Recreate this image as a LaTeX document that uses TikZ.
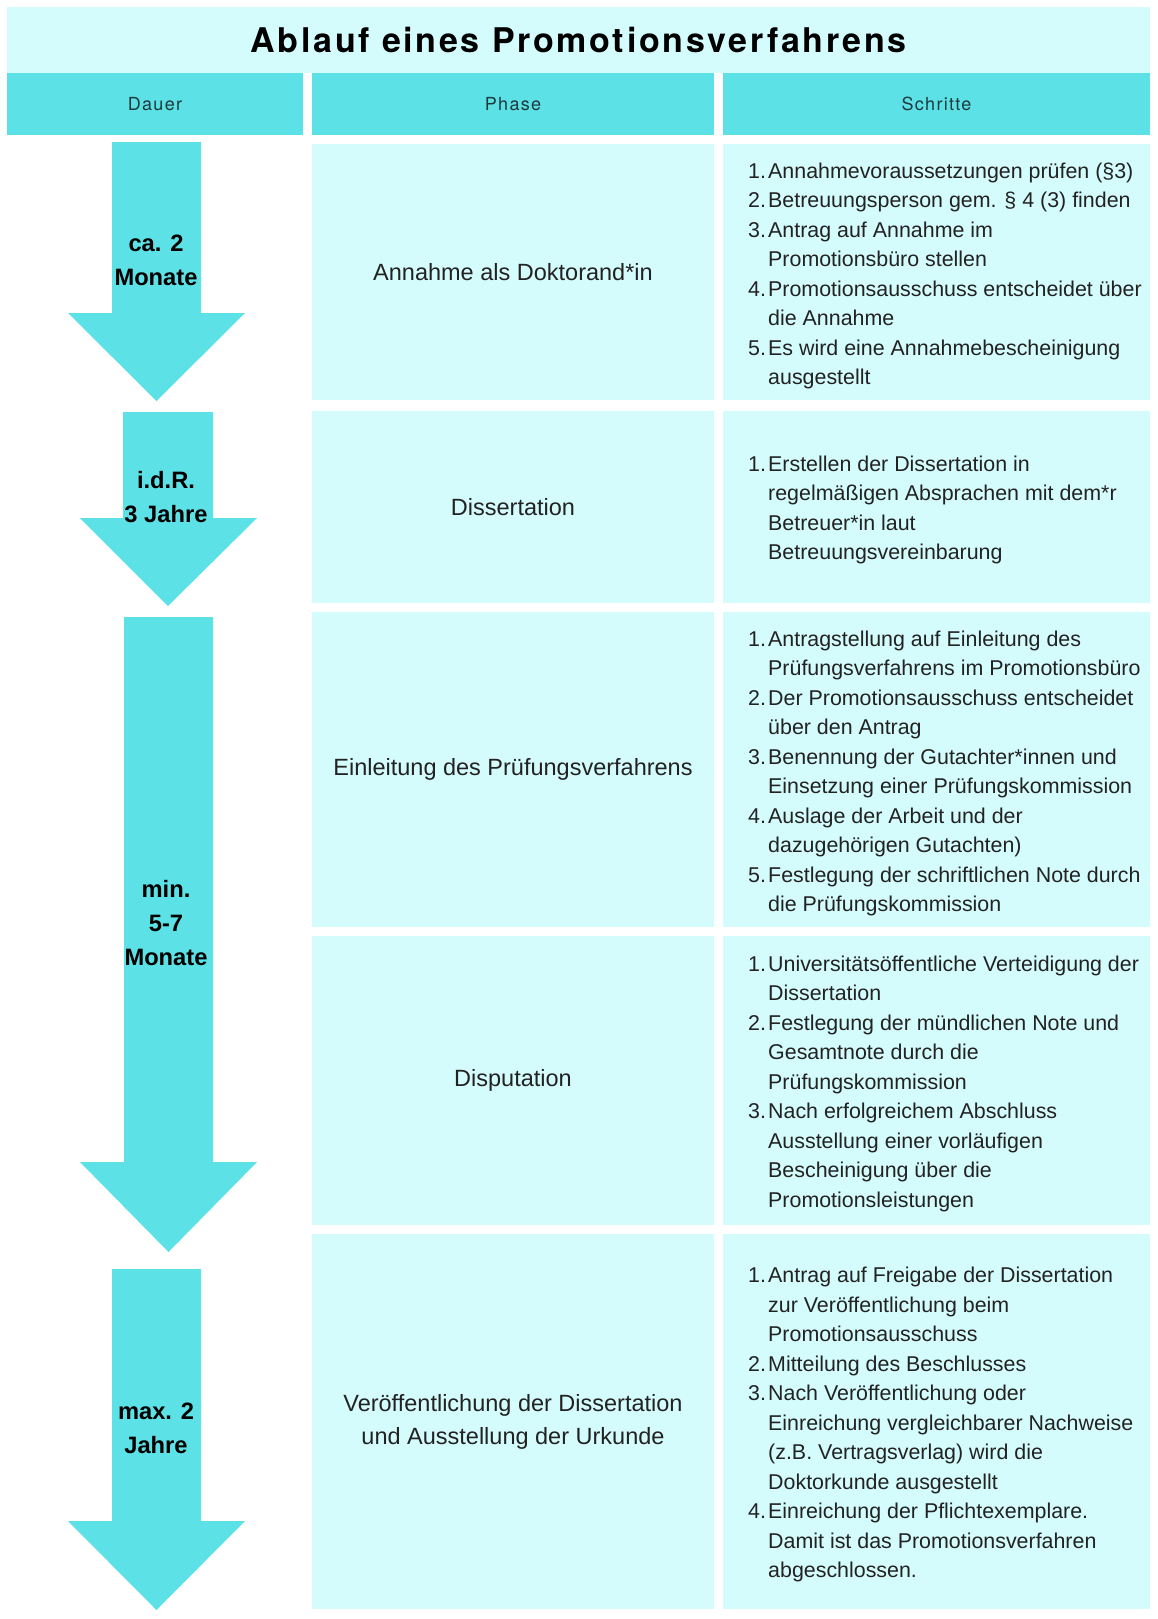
\documentclass[tikz,border=0pt]{standalone}
\usepackage{fontspec}
\setmainfont{Liberation Sans}
\newfontfamily\titlefont[LetterSpace=8]{TeX Gyre Heros}
\newfontfamily\headfont[LetterSpace=7]{TeX Gyre Heros}
\definecolor{cyanA}{HTML}{5CE1E6}
\definecolor{lightA}{HTML}{D5FCFD}
\definecolor{bodytext}{HTML}{222222}
\definecolor{headtext}{HTML}{1E3A3D}
\newcommand\itm[1]{\makebox[20pt][l]{#1}}
\newcommand\cont{\hspace*{20pt}}
\begin{document}
\begin{tikzpicture}[x=1pt,y=-1pt,
  band/.style={fill=lightA, draw=none, inner sep=0pt},
  headcell/.style={fill=cyanA, draw=none, inner sep=0pt, minimum height=62pt,
     font=\headfont\fontsize{18}{22}\selectfont, text=headtext},
  cell/.style={fill=lightA, draw=none, inner sep=0pt, align=center,
     font=\fontsize{23.5}{33}\selectfont, text=bodytext},
  steptext/.style={font=\fontsize{21.4}{29.5}\selectfont, align=left, anchor=west,
     inner sep=0pt, text=bodytext},
  durtext/.style={font=\bfseries\fontsize{23.7}{34}\selectfont, align=center,
     inner sep=0pt, text=black},
  arrowshape/.style={fill=cyanA, draw=none}]
\fill[white] (0,0) rectangle (1157,1619);
\useasboundingbox (0,0) rectangle (1157,1619);

% title and headers
\node[band, minimum width=1143pt, minimum height=66pt,
  font=\titlefont\bfseries\fontsize{34}{40}\selectfont] (title) at (578.5,40)
  {Ablauf eines Promotionsverfahrens};
\node[headcell, minimum width=296pt] (hdauer) at (155,104) {Dauer};
\node[headcell, minimum width=402pt] (hphase) at (513,104) {Phase};
\node[headcell, minimum width=427pt] (hschritte) at (936.5,104) {Schritte};

% phase cells
\node[cell, minimum width=402pt, minimum height=256pt] (ph1) at (513,272) {Annahme als Doktorand*in};
\node[cell, minimum width=402pt, minimum height=192pt] (ph2) at (513,507) {Dissertation};
\node[cell, minimum width=402pt, minimum height=315pt] (ph3) at (513,769.5) {Einleitung des Prüfungsverfahrens};
\node[cell, minimum width=402pt, minimum height=289pt] (ph4) at (513,1080.5) {Disputation};
\node[cell, minimum width=402pt, minimum height=375pt] (ph5) at (513,1421.5) {Veröffentlichung der Dissertation\\und Ausstellung der Urkunde};

% step cells
\node[cell, minimum width=427pt, minimum height=256pt] (st1) at (936.5,272) {};
\node[cell, minimum width=427pt, minimum height=192pt] (st2) at (936.5,507) {};
\node[cell, minimum width=427pt, minimum height=315pt] (st3) at (936.5,769.5) {};
\node[cell, minimum width=427pt, minimum height=289pt] (st4) at (936.5,1080.5) {};
\node[cell, minimum width=427pt, minimum height=375pt] (st5) at (936.5,1421.5) {};

\node[steptext] (t1) at (748,276) {%
\itm{1.}Annahmevoraussetzungen prüfen (§3)\\
\itm{2.}Betreuungsperson gem. § 4 (3) finden\\
\itm{3.}Antrag auf Annahme im\\
\cont Promotionsbüro stellen\\
\itm{4.}Promotionsausschuss entscheidet über\\
\cont die Annahme\\
\itm{5.}Es wird eine Annahmebescheinigung\\
\cont ausgestellt};

\node[steptext] (t2) at (748,510) {%
\itm{1.}Erstellen der Dissertation in\\
\cont regelmäßigen Absprachen mit dem*r\\
\cont Betreuer*in laut\\
\cont Betreuungsvereinbarung};

\node[steptext] (t3) at (748,773.5) {%
\itm{1.}Antragstellung auf Einleitung des\\
\cont Prüfungsverfahrens im Promotionsbüro\\
\itm{2.}Der Promotionsausschuss entscheidet\\
\cont über den Antrag\\
\itm{3.}Benennung der Gutachter*innen und\\
\cont Einsetzung einer Prüfungskommission\\
\itm{4.}Auslage der Arbeit und der\\
\cont dazugehörigen Gutachten)\\
\itm{5.}Festlegung der schriftlichen Note durch\\
\cont die Prüfungskommission};

\node[steptext] (t4) at (748,1083.5) {%
\itm{1.}Universitätsöffentliche Verteidigung der\\
\cont Dissertation\\
\itm{2.}Festlegung der mündlichen Note und\\
\cont Gesamtnote durch die\\
\cont Prüfungskommission\\
\itm{3.}Nach erfolgreichem Abschluss\\
\cont Ausstellung einer vorläufigen\\
\cont Bescheinigung über die\\
\cont Promotionsleistungen};

\node[steptext] (t5) at (748,1424.5) {%
\itm{1.}Antrag auf Freigabe der Dissertation\\
\cont zur Veröffentlichung beim\\
\cont Promotionsausschuss\\
\itm{2.}Mitteilung des Beschlusses\\
\itm{3.}Nach Veröffentlichung oder\\
\cont Einreichung vergleichbarer Nachweise\\
\cont (z.B. Vertragsverlag) wird die\\
\cont Doktorkunde ausgestellt\\
\itm{4.}Einreichung der Pflichtexemplare.\\
\cont Damit ist das Promotionsverfahren\\
\cont abgeschlossen.};

% duration arrows
\fill[arrowshape] (112,142) -- (201,142) -- (201,313) -- (245,313) -- (156.5,401)
  -- (68,313) -- (112,313) -- cycle;
\fill[arrowshape] (123,412) -- (213,412) -- (213,518) -- (257,518) -- (168,606)
  -- (80,518) -- (123,518) -- cycle;
\fill[arrowshape] (124,617) -- (213,617) -- (213,1162) -- (257,1162) -- (168.5,1252)
  -- (80,1162) -- (124,1162) -- cycle;
\fill[arrowshape] (112,1269) -- (201,1269) -- (201,1521) -- (245,1521) -- (156.5,1610)
  -- (68,1521) -- (112,1521) -- cycle;

\node[durtext] (d1) at (156,260) {ca. 2\\Monate};
\node[durtext] (d2) at (166,497.5) {i.d.R.\\3 Jahre};
\node[durtext] (d3) at (166,922.7) {min.\\5-7\\Monate};
\node[durtext] (d4) at (156,1428) {max. 2\\Jahre};
\end{tikzpicture}
\end{document}
